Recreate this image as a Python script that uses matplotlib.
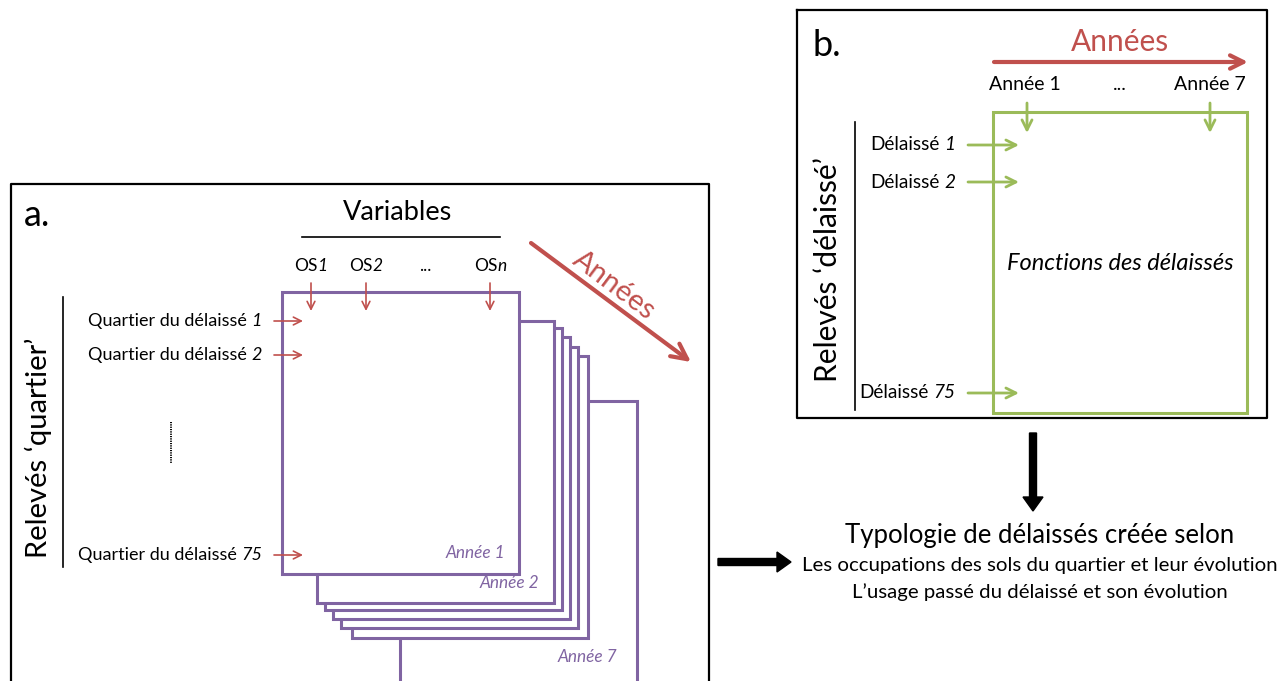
import matplotlib.pyplot as plt
from matplotlib.patches import Rectangle
from matplotlib.offsetbox import TextArea, HPacker, AnnotationBbox

plt.rcParams['font.family'] = ['Lato', 'DejaVu Sans']

# =====================================================
# Labels (regular part, italic part)
# =====================================================

variables = [("OS", "1"), ("OS", "2"), ("...", ""), ("OS", "n")]
quartiers = [("Quartier du délaissé", "1"),
             ("Quartier du délaissé", "2"),
             ("Quartier du délaissé", "75")]
sheet_labels = ["Année 1", "Année 2", "Année 7"]
annees_b = ["Année 1", "...", "Année 7"]
delaisses = [("Délaissé", "1"), ("Délaissé", "2"), ("Délaissé", "75")]
typo_lines = ["Les occupations des sols du quartier et leur évolution",
              "L’usage passé du délaissé et son évolution"]

purple = "#8064A2"
red = "#C0504D"
green = "#9BBB59"

fig = plt.figure(figsize=(12.88, 6.81), dpi=100)
ax = fig.add_axes([0, 0, 1, 1])
ax.set_xlim(0, 1288)
ax.set_ylim(681, 0)
ax.axis('off')


def mixed_label(x, y, regular, italic, size, ha, sep):
    parts = [TextArea(regular, textprops=dict(fontsize=size))]
    if italic:
        parts.append(TextArea(italic, textprops=dict(fontsize=size,
                                                     style='italic')))
    box = HPacker(children=parts, align='baseline', pad=0, sep=sep)
    halign = {'left': 0, 'center': 0.5, 'right': 1}[ha]
    ab = AnnotationBbox(box, (x, y), xycoords='data', frameon=False,
                        box_alignment=(halign, 0.5), pad=0)
    ax.add_artist(ab)


# =====================================================
# Panel a
# =====================================================

ax.plot([11, 11, 709, 709], [690, 184, 184, 690], color='black', lw=1.6)
ax.text(24, 216, "a.", fontsize=26, va='center', ha='left')

# stacked sheets (back to front)
sheets = [
    (400, 401, 637, 700),
    (352, 356, 588, 638),
    (341, 347, 578, 628),
    (333, 337, 570, 619),
    (325, 328, 562, 610),
    (317, 321, 554, 603),
    (282, 292, 519, 574),
]
for l, t, r, b in sheets:
    ax.add_patch(Rectangle((l, t), r-l, b-t, facecolor='white',
                           edgecolor=purple, lw=2.2))

ax.text(505, 553, sheet_labels[0], color=purple, style='italic',
        fontsize=12.4, ha='right', va='center')
ax.text(539, 583, sheet_labels[1], color=purple, style='italic',
        fontsize=12.4, ha='right', va='center')
ax.text(617, 657, sheet_labels[2], color=purple, style='italic',
        fontsize=12.4, ha='right', va='center')

ax.text(398, 213, "Variables", fontsize=19.5, ha='center', va='center')
ax.plot([302, 500], [237, 237], color='black', lw=1.2)

var_x = [311, 366, 425, 490]
for x, (reg, it) in zip(var_x, variables):
    mixed_label(x, 266, reg, it, 12.5, 'center', 0)
    if it:
        ax.annotate('', xy=(x, 311), xytext=(x, 283),
                    arrowprops=dict(arrowstyle='->', color=red, lw=1.2,
                                    mutation_scale=14, shrinkA=0, shrinkB=0))

q_y = [321, 355, 555]
for y, (reg, it) in zip(q_y, quartiers):
    mixed_label(262, y, reg, it, 13, 'right', 3)
    ax.annotate('', xy=(303, y), xytext=(274, y),
                arrowprops=dict(arrowstyle='->', color=red, lw=1.2,
                                mutation_scale=14, shrinkA=0, shrinkB=0))

ax.plot([171, 171], [422, 463], color='black', lw=1.4, ls=(0, (0.6, 0.6)))
ax.plot([63, 63], [297, 567], color='black', lw=1.2)
ax.text(38, 448, "Relevés ‘quartier’", fontsize=21, rotation=90,
        ha='center', va='center')

# diagonal years arrow
ax.annotate('', xy=(691, 362), xytext=(531, 243),
            arrowprops=dict(arrowstyle='->', color=red, lw=3,
                            mutation_scale=28, shrinkA=0, shrinkB=0))
ax.text(614, 285, "Années", color=red, fontsize=21, rotation=-37,
        ha='center', va='center', rotation_mode='anchor')

# =====================================================
# Panel b
# =====================================================

ax.plot([797, 1267, 1267, 797, 797], [10, 10, 418, 418, 10],
        color='black', lw=1.6)
ax.text(813, 45, "b.", fontsize=26, va='center', ha='left')

ax.text(1120, 42, "Années", color=red, fontsize=21.5, ha='center', va='center')
ax.annotate('', xy=(1248, 62), xytext=(994, 62),
            arrowprops=dict(arrowstyle='->', color=red, lw=3,
                            mutation_scale=24, shrinkA=0, shrinkB=0))

ann_x = [1025, 1120, 1210]
for x, lab in zip(ann_x, annees_b):
    ax.text(x, 84, lab, fontsize=14, ha='center', va='center')

ax.add_patch(Rectangle((993, 112), 254, 301, facecolor='white',
                       edgecolor=green, lw=2.2))
for x in [1027, 1210]:
    ax.annotate('', xy=(x, 133), xytext=(x, 103),
                arrowprops=dict(arrowstyle='->', color=green, lw=2,
                                mutation_scale=18, shrinkA=0, shrinkB=0))

d_y = [145, 182, 393]
for y, (reg, it) in zip(d_y, delaisses):
    mixed_label(955, y, reg, it, 13.7, 'right', 3.2)
    ax.annotate('', xy=(1019, y), xytext=(968, y),
                arrowprops=dict(arrowstyle='->', color=green, lw=2,
                                mutation_scale=18, shrinkA=0, shrinkB=0))

ax.plot([855, 855], [122, 410], color='black', lw=1.2)
ax.text(828, 270, "Relevés ‘délaissé’", fontsize=21.5, rotation=90,
        ha='center', va='center')
ax.text(1120, 264, "Fonctions des délaissés", fontsize=17, style='italic',
        ha='center', va='center')

# =====================================================
# Result
# =====================================================

ax.arrow(1033, 433, 0, 78, width=7, head_width=20, head_length=14,
         color='black', length_includes_head=True)
ax.arrow(718, 562, 73, 0, width=7, head_width=20, head_length=14,
         color='black', length_includes_head=True)

ax.text(1040, 535, "Typologie de délaissés créée selon", fontsize=18.5,
        ha='center', va='center')
ax.text(1040, 565, typo_lines[0], fontsize=14.7, ha='center', va='center')
ax.text(1040, 592, typo_lines[1], fontsize=14.7, ha='center', va='center')

plt.savefig("out.png", dpi=100)
plt.close()
